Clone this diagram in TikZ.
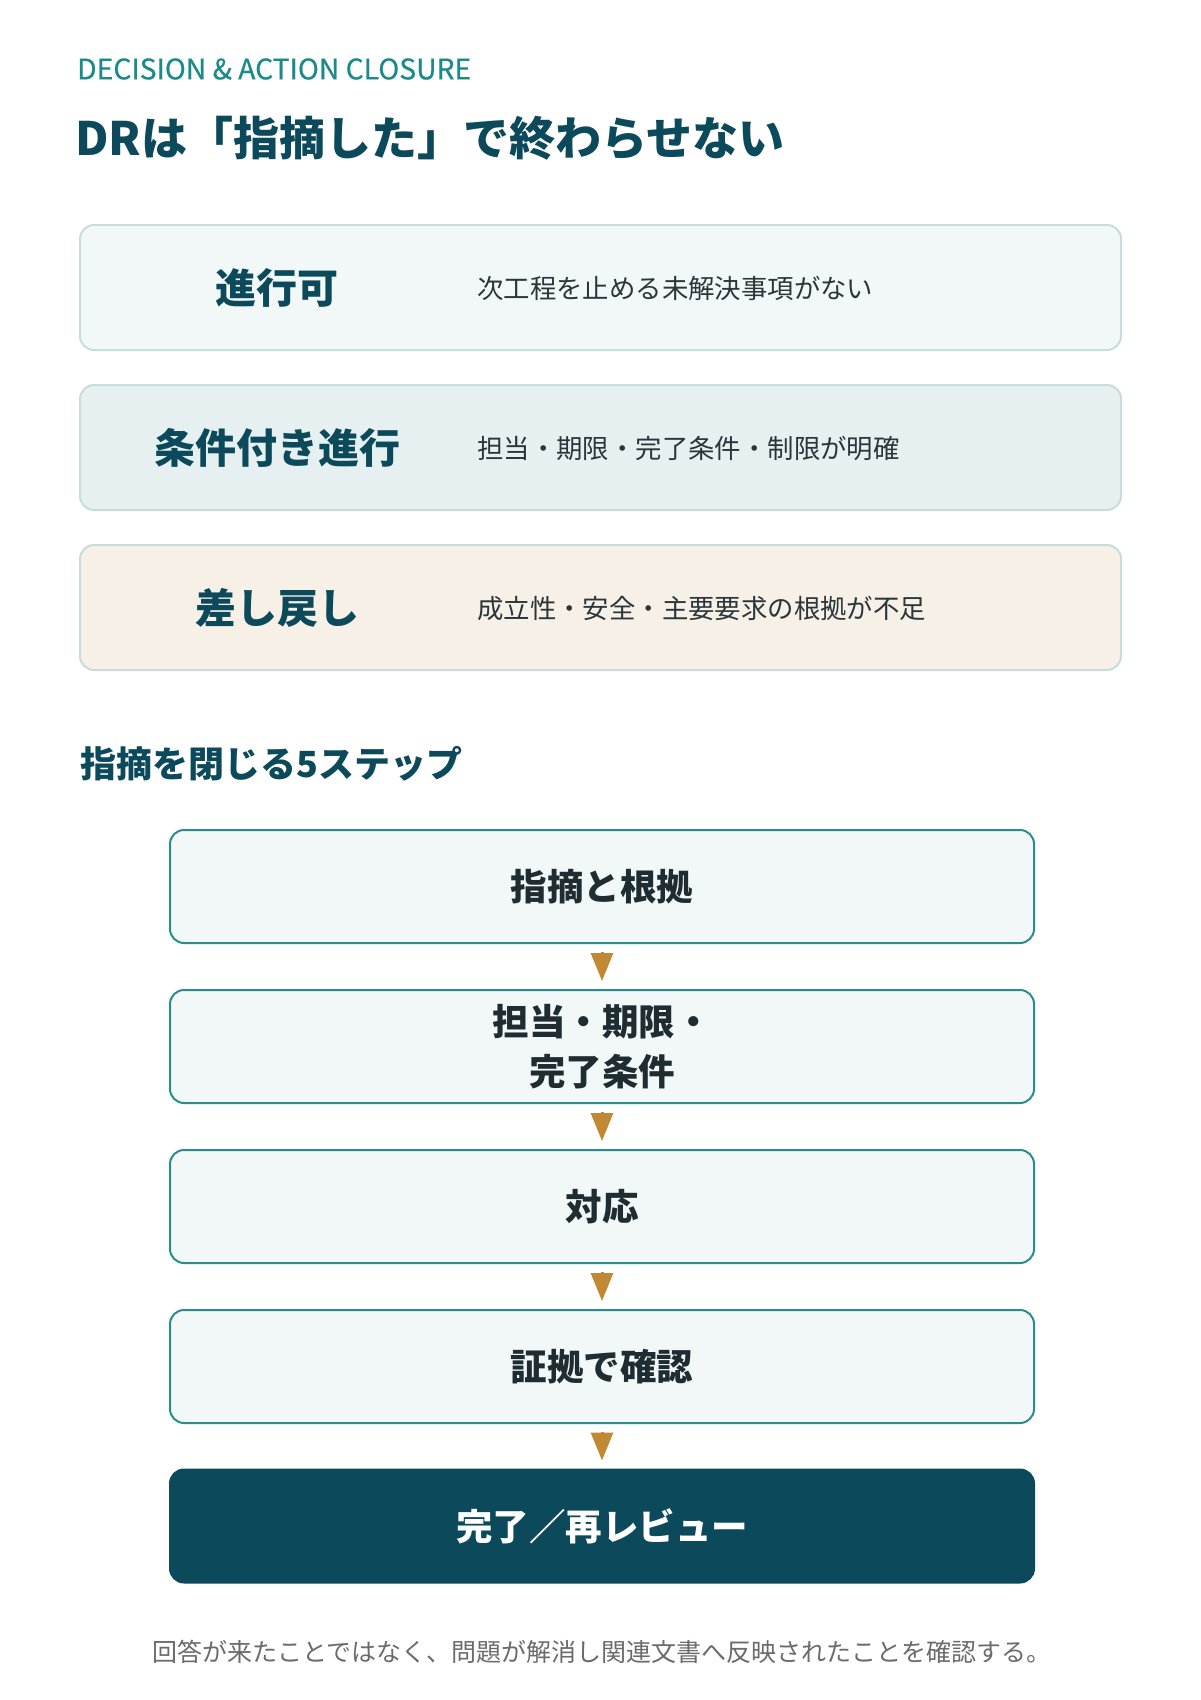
\documentclass[tikz,border=0pt]{standalone}
\usepackage{fontspec}
\setmainfont{Noto Sans CJK JP}
\newfontfamily\semibfont[FakeBold=0.5]{Noto Sans CJK JP}
\usetikzlibrary{arrows.meta}
\definecolor{navy}{HTML}{0C4A5B}
\definecolor{tealc}{HTML}{1A8A8A}
\definecolor{stepborder}{HTML}{2A8C8C}
\definecolor{lightborder}{HTML}{C8DCDD}
\definecolor{fillA}{HTML}{F2F8F8}
\definecolor{fillB}{HTML}{E6F0F1}
\definecolor{fillC}{HTML}{F7F0E7}
\definecolor{gold}{HTML}{C08A35}
\definecolor{bodytext}{HTML}{2B363C}
\definecolor{steptext}{HTML}{1F2D33}
\definecolor{footgray}{HTML}{6B6B6B}
\begin{document}
\begin{tikzpicture}[x=1pt,y=-1pt,
  decbox/.style={draw=lightborder, line width=2pt, rounded corners=14pt, minimum width=1041pt, minimum height=125pt, inner sep=0pt},
  declabel/.style={font=\fontsize{41}{46}\selectfont\bfseries, text=navy, inner sep=0pt},
  decdesc/.style={font=\fontsize{26.4}{31}\selectfont, text=bodytext, anchor=west, inner sep=0pt},
  stepbox/.style={draw=stepborder, fill=fillA, line width=2pt, rounded corners=14pt, minimum width=864pt, minimum height=113pt, inner sep=0pt, align=center, font=\fontsize{36.5}{50}\selectfont\bfseries, text=steptext},
  finalbox/.style={stepbox, draw=navy, fill=navy, text=white},
  flow/.style={draw=gold, line width=3pt, -{Triangle[width=22pt,length=28pt]}}
]
\useasboundingbox (0,0) rectangle (1200,1700);
\fill[white] (0,0) rectangle (1200,1700);

\node[anchor=west, inner sep=0pt, font=\fontsize{28.3}{33}\semibfont, text=tealc] (kicker) at (77,69) {DECISION \& ACTION CLOSURE};
\node[anchor=west, inner sep=0pt, font=\fontsize{46}{54}\selectfont\bfseries, text=navy] (title) at (75,138) {DRは「指摘した」で終わらせない};

\node[decbox, fill=fillA] (b1) at (600.5,287.5) {};
\node[declabel] (l1) at (277,288) {進行可};
\node[decdesc] (d1) at (477,288) {次工程を止める未解決事項がない};

\node[decbox, fill=fillB] (b2) at (600.5,447.5) {};
\node[declabel] (l2) at (277,448) {条件付き進行};
\node[decdesc] (d2) at (477,448) {担当・期限・完了条件・制限が明確};

\node[decbox, fill=fillC] (b3) at (600.5,607.5) {};
\node[declabel] (l3) at (277,608) {差し戻し};
\node[decdesc] (d3) at (477,608) {成立性・安全・主要要求の根拠が不足};

\node[anchor=west, inner sep=0pt, font=\fontsize{36}{42}\selectfont\bfseries, text=navy] (heading) at (80,764) {指摘を閉じる5ステップ};

\node[stepbox] (s1) at (602,886.5) {指摘と根拠};
\node[stepbox] (s2) at (602,1046.5) {担当・期限・\\完了条件};
\node[stepbox] (s3) at (602,1206.5) {対応};
\node[stepbox] (s4) at (602,1366.5) {証拠で確認};
\node[finalbox] (s5) at (602,1526) {完了／再レビュー};

\draw[flow] ([yshift=-8pt]s1.south) -- ([yshift=8pt]s2.north);
\draw[flow] ([yshift=-8pt]s2.south) -- ([yshift=8pt]s3.north);
\draw[flow] ([yshift=-8pt]s3.south) -- ([yshift=8pt]s4.north);
\draw[flow] ([yshift=-8pt]s4.south) -- ([yshift=8pt]s5.north);

\node[inner sep=0pt, font=\fontsize{25}{30}\selectfont, text=footgray] (foot) at (602,1652) {回答が来たことではなく、問題が解消し関連文書へ反映されたことを確認する。};
\end{tikzpicture}
\end{document}
